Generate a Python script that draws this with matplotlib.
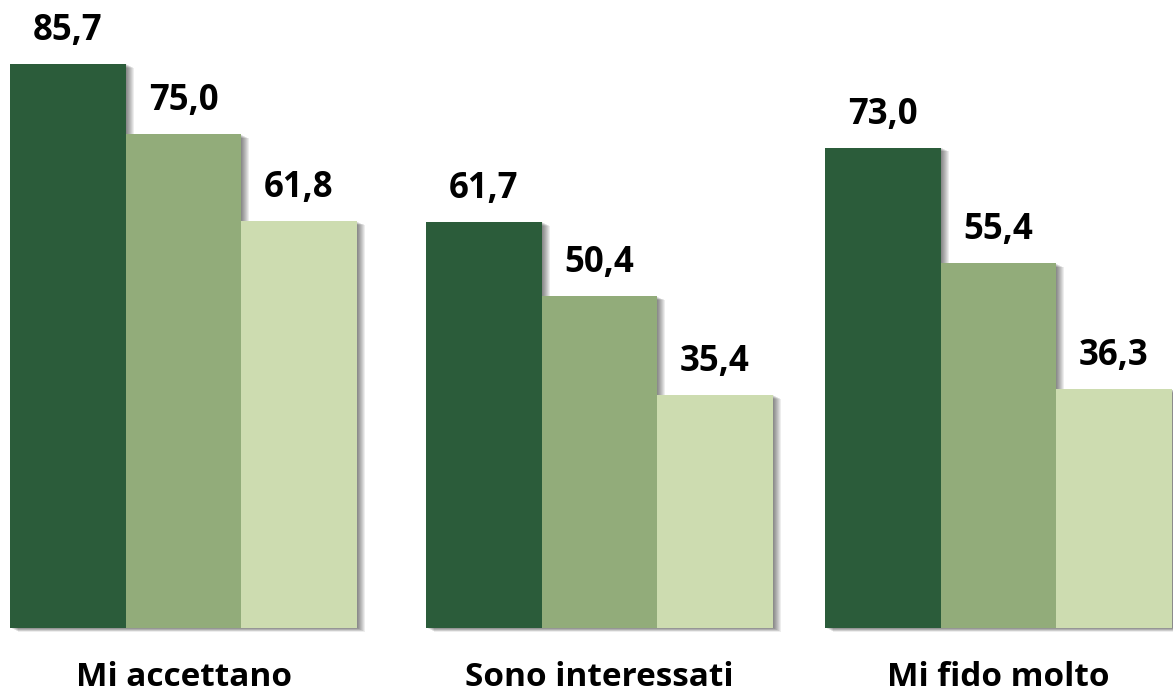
import matplotlib
matplotlib.use("Agg")
import matplotlib.pyplot as plt
import matplotlib.patheffects as pe

categories = ["Mi accettano", "Sono interessati", "Mi fido molto"]
series_a = [85.7, 61.7, 73.0]
series_b = [75.0, 50.4, 55.4]
series_c = [61.8, 35.4, 36.3]
value_labels_a = ["85,7", "61,7", "73,0"]
value_labels_b = ["75,0", "50,4", "55,4"]
value_labels_c = ["61,8", "35,4", "36,3"]

colors = ["#2B5C3A", "#92AC7A", "#CDDCB0"]

W, H = 1173, 694
fig = plt.figure(figsize=(W / 100, H / 100), dpi=100)
ax = fig.add_axes([0, 0, 1, 1])
ax.set_axis_off()

# pixel-based layout
base_px = 628
scale = (628 - 64) / 85.7
ax.set_xlim(0, W)
ax.set_ylim((base_px - H) / scale, base_px / scale)

centers = [183.5, 599.5, 998.5]
bw = 115.5

shadow = [pe.SimplePatchShadow(offset=(o * 0.72, -o * 0.45 * 0.72), shadow_rgbFace="#000000", alpha=0.07)
          for o in (1, 2, 3, 4, 5, 6, 7, 8)] + [pe.Normal()]

font = ["Open Sans", "DejaVu Sans"]
for s, (vals, labs) in enumerate(zip([series_a, series_b, series_c],
                                     [value_labels_a, value_labels_b, value_labels_c])):
    xs = [c + (s - 1) * bw for c in centers]
    bars = ax.bar(xs, vals, width=bw, color=colors[s], zorder=2 + s, linewidth=0)
    for b in bars:
        b.set_path_effects(shadow)
    for x, v, t in zip(xs, vals, labs):
        ax.text(x, v + 24 / scale, t, ha="center", va="baseline",
                fontsize=25, fontweight="bold", family=font, color="#000000", zorder=10)

for c, cat in zip(centers, categories):
    ax.text(c, (base_px - 686) / scale, cat, ha="center", va="baseline",
            fontsize=24, fontweight="bold", family=font, color="#000000")

fig.savefig("out.png", dpi=100)
